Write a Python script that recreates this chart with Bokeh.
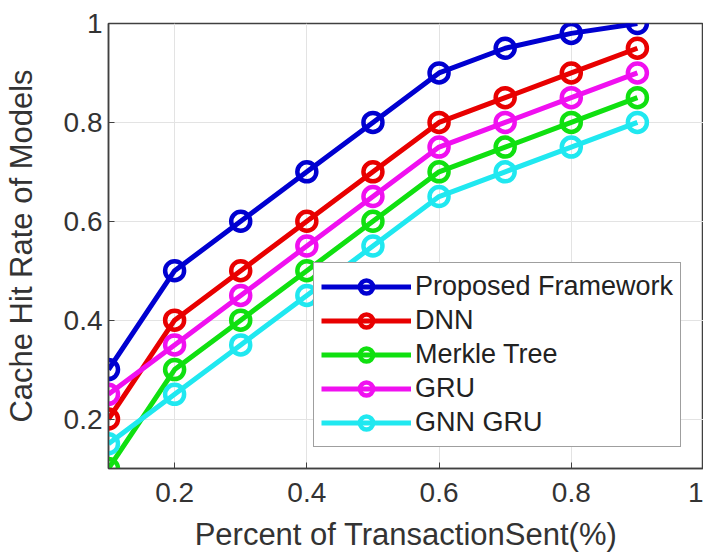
from bokeh.plotting import figure
from bokeh.models import (Range1d, FixedTicker, CustomJSTickFormatter, Legend, LegendItem)
from bokeh.embed import file_html
from bokeh.resources import INLINE

x_vals = [0.1, 0.2, 0.3, 0.4, 0.5, 0.6, 0.7, 0.8, 0.9]
proposed = [0.30, 0.50, 0.60, 0.70, 0.80, 0.90, 0.95, 0.98, 1.00]
dnn = [0.20, 0.40, 0.50, 0.60, 0.70, 0.80, 0.85, 0.90, 0.95]
merkle = [0.10, 0.30, 0.40, 0.50, 0.60, 0.70, 0.75, 0.80, 0.85]
gru = [0.25, 0.35, 0.45, 0.55, 0.65, 0.75, 0.80, 0.85, 0.90]
gnn_gru = [0.15, 0.25, 0.35, 0.45, 0.55, 0.65, 0.70, 0.75, 0.80]
series_names = ["Proposed Framework", "DNN", "Merkle Tree", "GRU", "GNN GRU"]
x_ticks = [0.2, 0.4, 0.6, 0.8, 1.0]
y_ticks = [0.2, 0.4, 0.6, 0.8, 1.0]

colors = ["#0000D0", "#E80000", "#10E010", "#F010F0", "#20E8F0"]
series = [proposed, dnn, merkle, gru, gnn_gru]

FONT = "Liberation Sans"
AX = "#404040"

p = figure(width=703, height=557, output_backend="svg", toolbar_location=None,
           x_range=Range1d(0.1, 1.0), y_range=Range1d(0.1, 1.0),
           min_border_left=108, min_border_top=23, min_border_bottom=89,
           min_border_right=0)
p.outline_line_color = AX
p.outline_line_width = 1.5
p.background_fill_color = "white"
p.border_fill_color = "white"

fmt = CustomJSTickFormatter(code="return String(Math.round(tick*10)/10);")
for ax, ticks in ((p.xaxis[0], x_ticks), (p.yaxis[0], y_ticks)):
    ax.ticker = FixedTicker(ticks=ticks)
    ax.formatter = fmt
    ax.major_tick_in = 6
    ax.major_tick_out = 0
    ax.minor_tick_line_color = None
    ax.axis_line_color = AX
    ax.axis_line_width = 1.5
    ax.major_tick_line_color = AX
    ax.major_label_text_font = FONT
    ax.major_label_text_font_size = "28px"
    ax.major_label_text_color = "#333333"
    ax.axis_label_text_font = FONT
    ax.axis_label_text_font_size = "31px"
    ax.axis_label_text_font_style = "normal"
    ax.axis_label_text_color = "#333333"

p.xaxis.axis_label = "Percent of TransactionSent(%)"
p.yaxis.axis_label = "Cache Hit Rate of Models"
p.xaxis.major_label_standoff = 14
p.yaxis.major_label_standoff = 6
p.xaxis.axis_label_standoff = 12
p.yaxis.axis_label_standoff = 22

p.xgrid.ticker = FixedTicker(ticks=x_ticks)
p.ygrid.ticker = FixedTicker(ticks=y_ticks)
p.grid.grid_line_color = "#E3E3E3"
p.grid.grid_line_width = 1

items = []
for name, ys, c in zip(series_names, series, colors):
    l = p.line(x_vals, ys, line_color=c, line_width=5)
    s = p.scatter(x_vals, ys, marker="circle", size=19, line_color=c, line_width=4.5,
                  fill_alpha=0)
    items.append(LegendItem(label=name, renderers=[l, s]))

legend = Legend(items=items, location=(205, 21))
legend.label_text_font = FONT
legend.label_text_font_size = "27px"
legend.label_text_color = "#222222"
legend.glyph_width = 90
legend.glyph_height = 33
legend.label_height = 33
legend.spacing = 1
legend.padding = 7
legend.margin = 0
legend.label_standoff = 4
legend.border_line_color = AX
legend.border_line_width = 1.5
legend.background_fill_alpha = 1
p.add_layout(legend, "center")

open("out.html", "w").write(file_html(p, INLINE))
